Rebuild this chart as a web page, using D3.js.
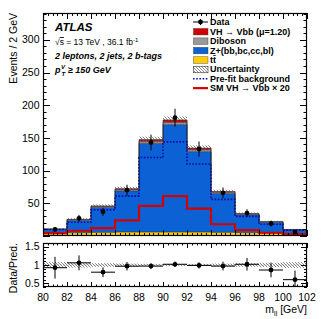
<!DOCTYPE html>
<html><head><meta charset="utf-8">
<script src="https://cdn.jsdelivr.net/npm/d3@7"></script>
<style>
body{margin:0;background:#fff;}
svg{display:block;font-family:"Liberation Sans",Arial,sans-serif;}
</style></head>
<body><svg id="c" width="332" height="319"></svg>
<script>
// ---- data ----
const binEdges = [80,82,84,86,88,90,92,94,96,98,100,102];
const ttbar   = [4, 5, 5.5, 6, 6, 6, 6, 5.5, 5, 4.5, 4];
const zhf     = [6, 19, 38.3, 63, 135.7, 164.3, 123, 59.4, 27.6, 16.4, 5.3];
const diboson = [0.5, 1, 1.5, 2, 3, 3.5, 3, 2, 1.2, 0.8, 0.5];
const vhFit   = [0.3, 0.5, 0.7, 1.4, 2.8, 3.7, 2.5, 1.1, 0.5, 0.3, 0.2];
const relUnc  = [0.08, 0.07, 0.05, 0.04, 0.03, 0.03, 0.03, 0.04, 0.05, 0.06, 0.08];
const prefit  = [10, 21, 40, 61, 120, 144, 110, 56, 30, 18, 9];
const smVHx20 = [4.5, 8, 12, 24, 46, 61, 42, 18, 9, 5, 3];
const dataVal = [10, 27, 37, 70, 143, 181, 133, 66, 35, 19, 6];
const dataErr = [3.2, 5.2, 6.1, 8.4, 12, 13.5, 11.5, 8.1, 5.9, 4.4, 2.5];
const xTicks  = [80,82,84,86,88,90,92,94,96,98,100,102];
const yTicks  = [50,100,150,200,250,300];
const rTicks  = [0.5,1,1.5];

const svg = d3.select("#c");
const L=43, R=307, T1=13, B1=236, T2=243, B2=287;
const x = d3.scaleLinear().domain([80,102]).range([L,R]);
const y = d3.scaleLinear().domain([0,341]).range([B1,T1]);
const yr = d3.scaleLinear().domain([0.4,1.6]).range([B2,T2]);

const nb = dataVal.length;
const rows = d3.range(nb).map(i=>({i, lo:binEdges[i], hi:binEdges[i+1], ttbar:ttbar[i], zhf:zhf[i], diboson:diboson[i], vh:vhFit[i]}));
const keys = ["ttbar","zhf","diboson","vh"];
const colors = {ttbar:"#ffcc00", zhf:"#0c62d4", diboson:"#999999", vh:"#d20000"};
const stack = d3.stack().keys(keys)(rows);
const total = rows.map(r=>r.ttbar+r.zhf+r.diboson+r.vh);

// hatch pattern
const defs = svg.append("defs");
const pat = defs.append("pattern").attr("id","hatch").attr("patternUnits","userSpaceOnUse")
  .attr("width",3).attr("height",3);
pat.append("path").attr("d","M0,0 L3,3 M-1,2 L1,4 M2,-1 L4,1").attr("stroke","#555").attr("stroke-width",0.7);
defs.append("clipPath").attr("id","clipR").append("rect").attr("x",L).attr("y",T2).attr("width",R-L).attr("height",B2-T2);
defs.append("clipPath").attr("id","clipM").append("rect").attr("x",L).attr("y",T1).attr("width",R-L).attr("height",B1-T1);

const gM = svg.append("g").attr("clip-path","url(#clipM)");
// stacked fills
stack.forEach(s=>{
  gM.selectAll(null).data(s).enter().append("rect")
    .attr("x",d=>x(d.data.lo)).attr("width",d=>x(d.data.hi)-x(d.data.lo)+0.3)
    .attr("y",d=>y(d[1])).attr("height",d=>y(d[0])-y(d[1]))
    .attr("fill",colors[s.key]);
});
// component outlines
function stepPath(vals, ys){
  let p="";
  vals.forEach((v,i)=>{
    const X0=x(binEdges[i]), X1=x(binEdges[i+1]), Y=ys(v);
    p += (i===0?"M":"L")+X0+","+Y+"L"+X1+","+Y;
  });
  return p;
}
stack.forEach(s=>{
  gM.append("path").attr("d",stepPath(s.map(d=>d[1]),y)).attr("fill","none")
    .attr("stroke","#222").attr("stroke-width",0.5);
});
// uncertainty hatch
gM.selectAll(null).data(rows).enter().append("rect")
  .attr("x",d=>x(d.lo)).attr("width",d=>x(d.hi)-x(d.lo))
  .attr("y",d=>y(total[d.i]*(1+relUnc[d.i]))).attr("height",d=>y(total[d.i]*(1-relUnc[d.i]))-y(total[d.i]*(1+relUnc[d.i])))
  .attr("fill","url(#hatch)");
// prefit dotted
gM.append("path").attr("d",stepPath(prefit,y)).attr("fill","none")
  .attr("stroke","#0a0aa8").attr("stroke-width",1.6).attr("stroke-dasharray","1.6,1.6");
// SM VH x20
gM.append("path").attr("d",stepPath(smVHx20,y)).attr("fill","none")
  .attr("stroke","#d20000").attr("stroke-width",2.2);
// data
const mid = i=>(binEdges[i]+binEdges[i+1])/2;
gM.selectAll(null).data(rows).enter().append("line")
  .attr("x1",d=>x(mid(d.i))).attr("x2",d=>x(mid(d.i)))
  .attr("y1",d=>y(dataVal[d.i]-dataErr[d.i])).attr("y2",d=>y(dataVal[d.i]+dataErr[d.i]))
  .attr("stroke","#000").attr("stroke-width",1);
gM.selectAll(null).data(rows).enter().append("circle")
  .attr("cx",d=>x(mid(d.i))).attr("cy",d=>y(dataVal[d.i])).attr("r",2.4).attr("fill","#000");

// ratio panel
const gR = svg.append("g").attr("clip-path","url(#clipR)");
gR.selectAll(null).data(rows).enter().append("rect")
  .attr("x",d=>x(d.lo)).attr("width",d=>x(d.hi)-x(d.lo))
  .attr("y",d=>yr(1+relUnc[d.i])).attr("height",d=>yr(1-relUnc[d.i])-yr(1+relUnc[d.i]))
  .attr("fill","url(#hatch)");
gR.append("line").attr("x1",L).attr("x2",R).attr("y1",yr(1)).attr("y2",yr(1))
  .attr("stroke","#888").attr("stroke-width",0.6).attr("stroke-dasharray","1.5,1");
const ratio = rows.map(d=>dataVal[d.i]/total[d.i]);
const rerr = rows.map(d=>dataErr[d.i]/total[d.i]);
gR.selectAll(null).data(rows).enter().append("line")
  .attr("x1",d=>x(d.lo)).attr("x2",d=>x(d.hi)).attr("y1",d=>yr(ratio[d.i])).attr("y2",d=>yr(ratio[d.i]))
  .attr("stroke","#000").attr("stroke-width",1);
gR.selectAll(null).data(rows).enter().append("line")
  .attr("x1",d=>x(mid(d.i))).attr("x2",d=>x(mid(d.i)))
  .attr("y1",d=>yr(ratio[d.i]-rerr[d.i])).attr("y2",d=>yr(ratio[d.i]+rerr[d.i]))
  .attr("stroke","#000").attr("stroke-width",1);
gR.selectAll(null).data(rows).enter().append("circle")
  .attr("cx",d=>x(mid(d.i))).attr("cy",d=>yr(ratio[d.i])).attr("r",2.4).attr("fill","#000");

// ticks (ROOT style, inward, all four sides)
const tk = svg.append("g").attr("stroke","#000").attr("stroke-width",1);
function xTickSet(top, bot, majLen, minLen){
  const majors = x.ticks(11);
  d3.range(80,102.01,0.4).forEach(v=>{
    const isMaj = majors.some(m=>Math.abs(m-v)<1e-6);
    const len = isMaj?majLen:minLen;
    const X = Math.round(x(v))+0.5;
    tk.append("line").attr("x1",X).attr("x2",X).attr("y1",bot).attr("y2",bot-len);
    tk.append("line").attr("x1",X).attr("x2",X).attr("y1",top).attr("y2",top+len);
  });
}
xTickSet(T1,B1,6,3);
xTickSet(T2,B2,5,2.5);
function yTickSet(scale, step, minorStep, lo, hi, majLen, minLen){
  for(let v=lo; v<=hi+1e-9; v+=minorStep){
    const vv = Math.round(v*1000)/1000;
    const isMaj = Math.abs(vv/step - Math.round(vv/step))<1e-6;
    const len = isMaj?majLen:minLen;
    const Y = Math.round(scale(vv))+0.5;
    tk.append("line").attr("x1",L).attr("x2",L+len).attr("y1",Y).attr("y2",Y);
    tk.append("line").attr("x1",R).attr("x2",R-len).attr("y1",Y).attr("y2",Y);
  }
}
yTickSet(y,50,10,0,340,7,3.5);
yTickSet(yr,0.5,0.1,0.4,1.6,6,3);

// frames
svg.append("rect").attr("x",L+0.5).attr("y",T1+0.5).attr("width",R-L-1).attr("height",B1-T1-1)
  .attr("fill","none").attr("stroke","#000").attr("stroke-width",1.2);
svg.append("rect").attr("x",L+0.5).attr("y",T2+0.5).attr("width",R-L-1).attr("height",B2-T2-1)
  .attr("fill","none").attr("stroke","#000").attr("stroke-width",1.2);

// tick labels
const fs = 10.5;
svg.append("g").selectAll("text").data(yTicks).enter().append("text")
  .attr("x",39.5).attr("y",d=>y(d)).attr("dy","0.35em").attr("text-anchor","end")
  .attr("font-size",fs).text(d=>d);
svg.append("g").selectAll("text").data(rTicks).enter().append("text")
  .attr("x",39.5).attr("y",d=>yr(d)).attr("dy","0.35em").attr("text-anchor","end")
  .attr("font-size",fs).text(d=>d);
svg.append("g").selectAll("text").data(xTicks).enter().append("text")
  .attr("x",d=>x(d)).attr("y",300.5).attr("text-anchor","middle")
  .attr("font-size",fs).text(d=>d);

// axis titles
svg.append("text").attr("transform","translate(16.5,13) rotate(-90)").attr("text-anchor","end")
  .attr("font-size",fs).text("Events / 2 GeV");
svg.append("text").attr("transform","translate(16.5,243) rotate(-90)").attr("text-anchor","end")
  .attr("font-size",fs).text("Data/Pred.");
const mt = svg.append("text").attr("x",307).attr("y",313).attr("text-anchor","end").attr("font-size",fs);
mt.append("tspan").text("m");
mt.append("tspan").attr("font-size",7).attr("dy",2.5).text("ll");
mt.append("tspan").attr("dy",-2.5).text(" [GeV]");

// labels
svg.append("text").attr("x",55).attr("y",30.5).attr("font-size",11.5).attr("font-weight","bold")
  .attr("font-style","italic").text("ATLAS");
const s2 = svg.append("text").attr("x",55).attr("y",45).attr("font-size",8.5);
s2.append("tspan").text("√");
s2.append("tspan").attr("text-decoration","overline").text("s");
s2.append("tspan").text(" = 13 TeV , 36.1 fb");
s2.append("tspan").attr("font-size",6).attr("dy",-3.5).text("-1");
svg.append("text").attr("x",55).attr("y",58.5).attr("font-size",9).attr("font-weight","bold")
  .attr("font-style","italic").text("2 leptons, 2 jets, 2 b-tags");
const pt = svg.append("text").attr("x",55).attr("y",73).attr("font-size",9).attr("font-weight","bold").attr("font-style","italic");
pt.append("tspan").text("p");
pt.append("tspan").attr("font-size",6).attr("dx",0.5).attr("dy",-4).text("V");
pt.append("tspan").attr("font-size",6).attr("dx",-3.5).attr("dy",7).text("T");
pt.append("tspan").attr("dy",-3).text(" ≥ 150 GeV");

// legend
const legItems = [
  {t:"Data", k:"data"},
  {t:"VH → Vbb (μ=1.20)", k:"box", c:colors.vh},
  {t:"Diboson", k:"box", c:colors.diboson},
  {t:"Z+(bb,bc,cc,bl)", k:"box", c:colors.zhf},
  {t:"tt\u0304", k:"box", c:colors.ttbar},
  {t:"Uncertainty", k:"hatch"},
  {t:"Pre-fit background", k:"dot"},
  {t:"SM VH → Vbb × 20", k:"line"}
];
const lg = svg.append("g");
legItems.forEach((d,i)=>{
  const cy = 22 + i*9.45;
  const g = lg.append("g");
  if(d.k==="data"){
    g.append("line").attr("x1",193).attr("x2",208).attr("y1",cy).attr("y2",cy).attr("stroke","#000");
    g.append("line").attr("x1",200.5).attr("x2",200.5).attr("y1",cy-3).attr("y2",cy+3).attr("stroke","#000");
    g.append("circle").attr("cx",200.5).attr("cy",cy).attr("r",2.4).attr("fill","#000");
  } else if(d.k==="box"){
    g.append("rect").attr("x",193.5).attr("y",cy-3).attr("width",14.5).attr("height",6.5).attr("fill",d.c)
      .attr("stroke","#333").attr("stroke-width",0.4);
  } else if(d.k==="hatch"){
    g.append("rect").attr("x",193.5).attr("y",cy-3).attr("width",14.5).attr("height",6.5).attr("fill","url(#hatch)")
      .attr("stroke","#333").attr("stroke-width",0.6);
  } else if(d.k==="dot"){
    g.append("line").attr("x1",193).attr("x2",208).attr("y1",cy).attr("y2",cy).attr("stroke","#0a0aa8")
      .attr("stroke-width",1.6).attr("stroke-dasharray","1.6,1.6");
  } else {
    g.append("line").attr("x1",193).attr("x2",208).attr("y1",cy).attr("y2",cy).attr("stroke","#d20000").attr("stroke-width",2.2);
  }
  g.append("text").attr("x",210).attr("y",cy).attr("dy","0.35em").attr("font-size",9).attr("font-weight","bold").text(d.t);
});
</script></body></html>
